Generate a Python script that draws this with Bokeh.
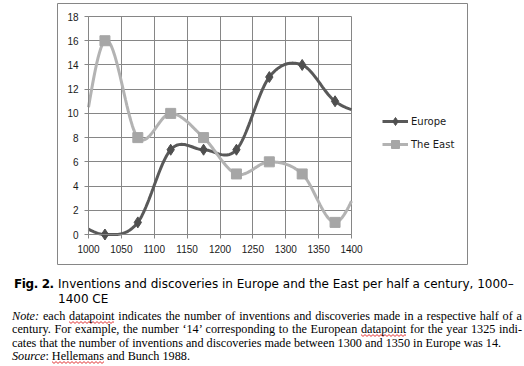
import urllib.parse
import numpy as np
from bokeh.plotting import figure
from bokeh.layouts import column, row
from bokeh.models import (Range1d, FixedTicker, Legend, LegendItem, Div, Spacer)
from bokeh.embed import file_html
from bokeh.resources import INLINE

# ---- data (half-century midpoints; first/last lie outside the shown axis) ----
years = [975, 1025, 1075, 1125, 1175, 1225, 1275, 1325, 1375, 1425]
europe = [1, 0, 1, 7, 7, 7, 13, 14, 11, 10]
east = [4, 16, 8, 10, 8, 5, 6, 5, 1, 5]
x_ticks = [1000, 1050, 1100, 1150, 1200, 1250, 1300, 1350, 1400]
y_ticks = [0, 2, 4, 6, 8, 10, 12, 14, 16, 18]
series_names = ["Europe", "The East"]

caption_bold = "Fig. 2."
caption_text = "Inventions and discoveries in Europe and the East per half a century, 1000\u2013 1400 CE"
note_lines = [
    "<i>Note:</i> each <u>datapoint</u> indicates the number of inventions and discoveries made in a respective half of a",
    "century. For example, the number \u201814\u2019 corresponding to the European <u>datapoint</u> for the year 1325 indi-",
]
note_last = "cates that the number of inventions and discoveries made between 1300 and 1350 in Europe was 14."
source_line = "<i>Source</i>: <u>Hellemans</u> and Bunch 1988."

# ---- layout (pixels) ----
BOX_L, BOX_T, BOX_R, BOX_B = 57, 3, 467, 264      # chart box
PA_L, PA_T, PA_R, PA_B = 88, 16, 351, 234         # plot area
X0, X1 = x_ticks[0], x_ticks[-1]
Y0, Y1 = y_ticks[0], y_ticks[-1]
sx = (X1 - X0) / (PA_R - PA_L)
sy = (Y1 - Y0) / (PA_B - PA_T)
x_range = Range1d(X0 - (PA_L - BOX_L) * sx, X1 + (BOX_R - PA_R) * sx)
y_range = Range1d(Y0 - (BOX_B - PA_B) * sy, Y1 + (PA_T - BOX_T) * sy)


def smooth(xs, ys, n=24):
    """Catmull-Rom smoothing through the data points (like a smoothed line)."""
    xs = np.asarray(xs, float)
    ys = np.asarray(ys, float)
    px = np.concatenate([[2 * xs[0] - xs[1]], xs, [2 * xs[-1] - xs[-2]]])
    py = np.concatenate([[ys[0]], ys, [ys[-1]]])
    t = np.linspace(0, 1, n, endpoint=False)
    ox, oy = [], []
    for i in range(1, len(px) - 2):
        for arr, out in ((px, ox), (py, oy)):
            p0, p1, p2, p3 = arr[i - 1:i + 3]
            out.extend(0.5 * (2 * p1 + (-p0 + p2) * t
                              + (2 * p0 - 5 * p1 + 4 * p2 - p3) * t ** 2
                              + (-p0 + 3 * p1 - 3 * p2 + p3) * t ** 3))
    ox.append(xs[-1])
    oy.append(ys[-1])
    ox, oy = np.array(ox), np.array(oy)
    keep = (ox >= X0 - 1e-6) & (ox <= X1 + 1e-6)
    return ox[keep], oy[keep]


def inside(xs, ys):
    pts = [(x, y) for x, y in zip(xs, ys) if X0 <= x <= X1]
    return [a for a, _ in pts], [b for _, b in pts]


GRID = "#868686"
DARK = "#595959"
LIGHT = "#b3b3b3"

p = figure(width=BOX_R - BOX_L + 2, height=BOX_B - BOX_T + 2,
           output_backend="svg", toolbar_location=None,
           x_range=x_range, y_range=y_range,
           min_border_left=1, min_border_right=1,
           min_border_top=1, min_border_bottom=1)
p.background_fill_color = "white"
p.border_fill_color = "white"
p.outline_line_color = GRID
p.outline_line_width = 1

p.xaxis.fixed_location = Y0
p.yaxis.fixed_location = X0
p.xaxis.bounds = (X0, X1)
p.yaxis.bounds = (Y0, Y1)
p.xaxis.ticker = FixedTicker(ticks=x_ticks)
p.yaxis.ticker = FixedTicker(ticks=y_ticks)
for ax in (p.xaxis[0], p.yaxis[0]):
    ax.axis_line_color = GRID
    ax.major_tick_line_color = GRID
    ax.minor_tick_line_color = None
    ax.major_tick_out = 4
    ax.major_tick_in = 0
    ax.major_label_text_font = "Liberation Sans"
    ax.major_label_text_font_size = "10px"
    ax.major_label_text_color = "#1a1a1a"
p.xaxis.major_label_standoff = 6
p.yaxis.major_label_standoff = 6
p.grid.grid_line_color = GRID
p.grid.grid_line_width = 1
p.xgrid.cross_bounds = (Y0, Y1)
p.ygrid.cross_bounds = (X0, X1)

ex, ey = smooth(years, europe)
tx, ty = smooth(years, east)
mx_eu, my_eu = inside(years, europe)
mx_ea, my_ea = inside(years, east)

l_eu = p.line(ex, ey, line_color=DARK, line_width=3)
s_eu = p.scatter(mx_eu, my_eu, marker="diamond", size=11,
                 fill_color="#4f4f4f", line_color="#4f4f4f")
l_ea = p.line(tx, ty, line_color=LIGHT, line_width=3)
s_ea = p.scatter(mx_ea, my_ea, marker="square", size=10,
                 fill_color="#a6a6a6", line_color="#a6a6a6")

legend = Legend(items=[LegendItem(label=series_names[0], renderers=[l_eu, s_eu]),
                       LegendItem(label=series_names[1], renderers=[l_ea, s_ea])],
                location=(382 - BOX_L, BOX_B - 154), padding=0, spacing=3,
                glyph_width=26, glyph_height=20, label_height=20,
                label_standoff=3, border_line_alpha=0,
                background_fill_alpha=0,
                label_text_font="DejaVu Sans", label_text_font_size="10px",
                label_text_color="#1a1a1a")
p.add_layout(legend)

zigzag = ("<svg xmlns='http://www.w3.org/2000/svg' width='4' height='3'>"
          "<path d='M0 0.6 L2 2.4 L4 0.6' fill='none' stroke='#e02020' "
          "stroke-width='0.9'/></svg>")
zig_url = "data:image/svg+xml," + urllib.parse.quote(zigzag)
squig = (f"background-image:url('{zig_url}');background-repeat:repeat-x;"
         "background-position:0 100%;background-size:4px 3px;padding-bottom:1px;")
just = "text-align:justify;text-align-last:justify;white-space:nowrap;"


def fix_u(s):
    return s.replace("<u>", f'<span style="{squig}">').replace("</u>", "</span>")


caption_html = (
    '<div style="margin:7px 0 0 9px;width:505px;font-family:\'DejaVu Sans\';'
    'font-size:12px;line-height:15px;color:#000;">'
    '<div style="display:flex;">'
    f'<div style="width:44px;flex:none;font-weight:bold;letter-spacing:-0.4px;">{caption_bold}</div>'
    f'<div style="width:460px;">{caption_text}</div>'
    '</div></div>'
    '<div style="margin:3px 0 0 7px;width:510px;font-family:\'Liberation Serif\';'
    'font-size:12.2px;line-height:13.3px;color:#000;">'
    + "".join(f'<div style="{just}">{fix_u(s)}</div>' for s in note_lines)
    + f'<div style="white-space:nowrap;">{note_last}</div>'
    + f'<div style="white-space:nowrap;">{fix_u(source_line)}</div>'
    + '</div>'
)
div = Div(text=caption_html, width=524, height=99)

layout = column(Spacer(height=BOX_T - 1),
                row(Spacer(width=BOX_L - 1), p),
                div)

open("out.html", "w").write(file_html(layout, INLINE))
